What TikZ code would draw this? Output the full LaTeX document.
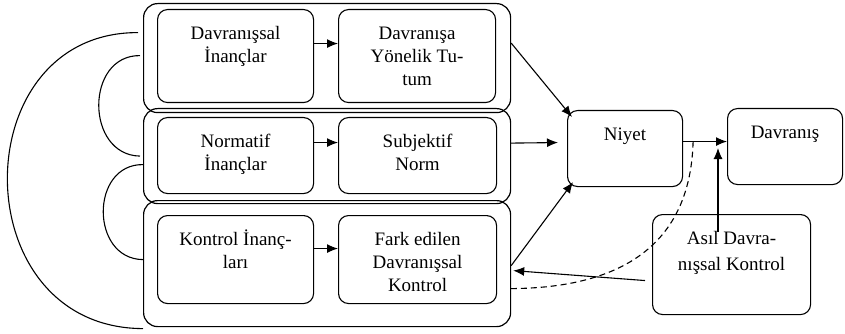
\documentclass[tikz,border=0pt]{standalone}
\usepackage{fontspec}
\setmainfont{Liberation Serif}
\usetikzlibrary{arrows.meta}
% text sits at the top of each box
\newcommand{\boxtext}[3]{\parbox[t][#2pt][t]{#1pt}{\vspace*{14pt}\centering\strut #3}}
\tikzset{
    box/.style={draw, line width=1.1pt, rounded corners=10pt, inner sep=0pt, anchor=north west},
    group/.style={draw, line width=1.2pt, rounded corners=14pt, inner sep=0pt, anchor=north west},
    arr/.style={line width=1.1pt, -{Latex[length=11pt,width=9pt]}},
}

\begin{document}
\begin{tikzpicture}[x=1pt, y=-1pt, font=\fontsize{19}{23}\selectfont]
    \useasboundingbox (0,0) rectangle (845,334);
    % Groups
    \node[group, minimum width=367pt, minimum height=109pt] (g1) at (143,3) {};
    \node[group, minimum width=367pt, minimum height=95pt] (g2) at (143,108) {};
    \node[group, minimum width=367pt, minimum height=126pt] (g3) at (143,200) {};
    % Beliefs and their outcomes
    \node[box] (di) at (157,9) {\boxtext{156}{93}{Davranışsal\\İnançlar}};
    \node[box] (dt) at (338,9) {\boxtext{157}{93}{Davranışa\\Yönelik Tu-\\tum}};
    \node[box] (ni) at (157,117) {\boxtext{156}{76}{Normatif\\İnançlar}};
    \node[box] (sn) at (338,117) {\boxtext{158}{76}{Subjektif\\Norm}};
    \node[box] (ki) at (157,215) {\boxtext{156}{88}{Kontrol İnanç-\\ları}};
    \node[box] (fd) at (338,215) {\boxtext{158}{88}{Fark edilen\\Davranışsal\\Kontrol}};
    % Right side
    \node[box] (niyet) at (567,110) {\boxtext{115}{76}{Niyet}};
    \node[box] (davranis) at (727,108) {\boxtext{115}{76}{Davranış}};
    \node[box] (asil) at (652,214) {\boxtext{158}{100}{\vspace*{3pt}Asıl Davra-\\nışsal Kontrol}};
    % Arrows inside the groups
    \foreach \a/\b/\s in {di/dt/12.5, ni/sn/13, ki/fd/11} {
        \draw[arr] ([yshift=\s pt]\a.east) -- ([yshift=\s pt]\b.west);
    }
    % Groups to intention
    \draw[arr] ([yshift=15pt]g1.east) -- ([xshift=5pt,yshift=-7pt]niyet.north west);
    \draw[arr] ([yshift=13pt]g2.east) -- ([xshift=-9pt,yshift=6pt]niyet.west);
    \draw[arr] ([yshift=-2pt]g3.east) -- ([xshift=6pt,yshift=5pt]niyet.south west);
    % Intention to behaviour
    \draw[arr] ([yshift=7pt]niyet.east) -- ([yshift=5pt]davranis.west);
    \coordinate (m1) at (718,148);
    \draw[arr] ([yshift=-18pt]asil.north -| m1) -- (m1);
    \draw[arr] ([xshift=-7pt,yshift=-16pt]asil.west) -- ([xshift=2pt,yshift=-7pt]g3.east);
    \draw[line width=1.1pt, dash pattern=on 6pt off 4pt] ([xshift=10pt,yshift=7pt]niyet.east)
        .. controls (690,260) and (600,288) .. ([yshift=-25pt]g3.east);
    % Correlation arcs
    \draw[line width=1.1pt] ([xshift=-3pt,yshift=2.5pt]g1.west)
        .. controls (85,55) and (85,155) .. ([xshift=-3pt]g2.west);
    \draw[line width=1.1pt] ([yshift=-8.5pt]g2.west)
        .. controls (90,164) and (90,259) .. ([yshift=4pt]g3.west);
    \draw[line width=1.1pt] ([xshift=-5pt,yshift=25.5pt]g1.west)
        .. controls (-37,32) and (-37,328) .. ([yshift=-65pt]g3.west);
\end{tikzpicture}
\end{document}
